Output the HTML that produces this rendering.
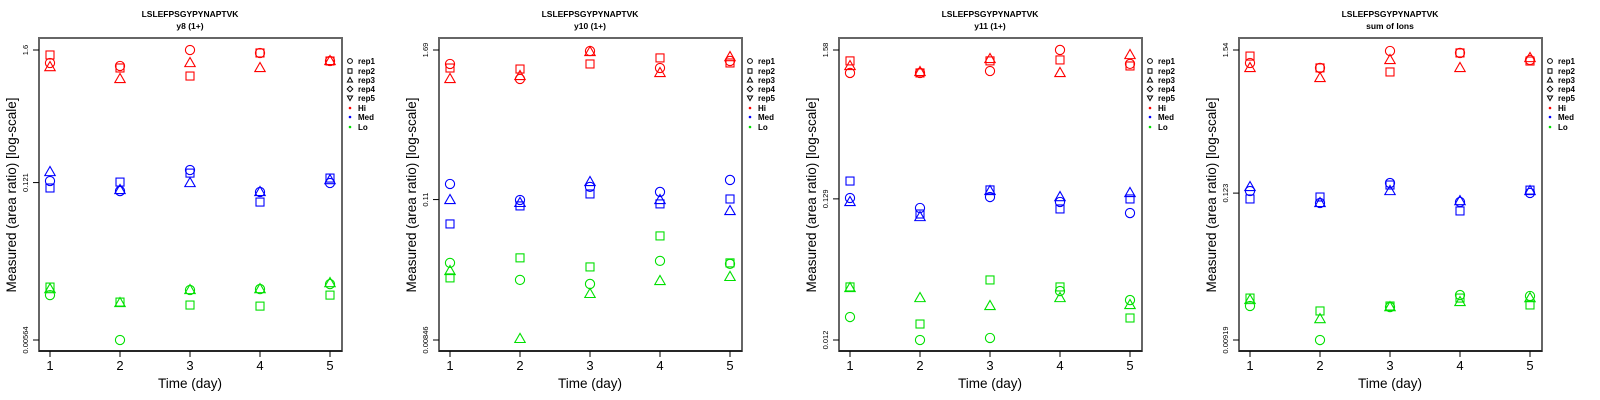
<!DOCTYPE html>
<html><head><meta charset="utf-8"><style>
body{margin:0;background:#fff;}
svg{display:block;font-family:"Liberation Sans",sans-serif;}
</style></head><body>
<svg id="chart" width="1600" height="400" viewBox="0 0 1600 400"></svg>
<script>
const days=[1,2,3,4,5];
const xTickLabels=["1","2","3","4","5"];
const panelTitles=["y8 (1+)","y10 (1+)","y11 (1+)","sum of Ions"];
const peptide="LSLEFPSGYPYNAPTVK";
const yMin=[0.00564,0.00846,0.012,0.00919];
const yMax=[1.6,1.69,1.58,1.54];
const yMidTick=[0.121,0.11,0.129,0.123];
const yTickLabels=[["1.6","0.121","0.00564"],["1.69","0.11","0.00846"],["1.58","0.129","0.012"],["1.54","0.123","0.00919"]];
const reps=["rep1","rep2","rep3"];
const groups=["Hi","Med","Lo"];
// log10 of measured area ratio, [panel][group][rep][day]
const log10Values=[
 [
  [[0.094,0.069,0.204,0.179,0.111],[0.162,0.052,-0.016,0.179,0.111],[0.060,-0.041,0.094,0.052,0.111]],
  [[-0.904,-0.989,-0.811,-0.997,-0.921],[-0.963,-0.913,-0.837,-1.082,-0.879],[-0.828,-0.980,-0.921,-0.997,-0.896]],
  [[-1.869,-2.249,-1.826,-1.818,-1.776],[-1.801,-1.928,-1.953,-1.962,-1.869],[-1.818,-1.936,-1.826,-1.818,-1.767]]
 ],
 [
  [[0.117,-0.002,0.220,0.085,0.141],[0.085,0.077,0.117,0.165,0.125],[-0.002,0.022,0.212,0.046,0.172]],
  [[-0.835,-0.962,-0.858,-0.898,-0.803],[-1.152,-1.009,-0.914,-0.993,-0.954],[-0.962,-0.985,-0.819,-0.962,-1.049]],
  [[-1.461,-1.596,-1.628,-1.445,-1.469],[-1.580,-1.421,-1.493,-1.247,-1.461],[-1.525,-2.064,-1.707,-1.604,-1.572]]
 ],
 [
  [[0.031,0.031,0.045,0.199,0.097],[0.119,0.031,0.119,0.126,0.082],[0.082,0.038,0.133,0.031,0.162]],
  [[-0.883,-0.956,-0.876,-0.912,-0.993],[-0.759,-1.000,-0.824,-0.963,-0.890],[-0.912,-1.022,-0.832,-0.876,-0.846]],
  [[-1.753,-1.921,-1.906,-1.563,-1.629],[-1.533,-1.804,-1.482,-1.533,-1.760],[-1.541,-1.614,-1.672,-1.614,-1.665]]
 ],
 [
  [[0.088,0.050,0.180,0.165,0.111],[0.141,0.050,0.019,0.165,0.103],[0.050,-0.027,0.111,0.050,0.126]],
  [[-0.894,-0.986,-0.833,-0.978,-0.909],[-0.955,-0.940,-0.848,-1.047,-0.887],[-0.863,-0.986,-0.894,-0.971,-0.894]],
  [[-1.776,-2.037,-1.784,-1.692,-1.699],[-1.715,-1.814,-1.776,-1.715,-1.768],[-1.730,-1.876,-1.784,-1.745,-1.715]]
 ]
];
const colors=["#ff0000","#0000ff","#00e000"];
const NS="http://www.w3.org/2000/svg";
const svg=document.getElementById('chart');
function mk(tag,attrs,parent){const e=document.createElementNS(NS,tag);for(const k in attrs)e.setAttribute(k,attrs[k]);(parent||svg).appendChild(e);return e;}
function txt(s,attrs,parent){const e=mk('text',attrs,parent);e.textContent=s;return e;}

for(let p=0;p<4;p++){
  const ox=p*400;
  const g=mk('g',{});
  
  
  const xS=d=>ox+50+(d-1)*70;
  const lo=Math.log10(yMin[p]),hi=Math.log10(yMax[p]);
  const yS=l=>340-(l-lo)/(hi-lo)*290;
  const t1=txt(peptide,{x:ox+190,y:17,'text-anchor':'middle','font-size':8.5,'font-weight':'bold'},g);
  
  
  const t2=txt(panelTitles[p],{x:ox+190,y:29,'text-anchor':'middle','font-size':8.5,'font-weight':'bold'},g);
  
  
  const box=mk('rect',{x:ox+39,y:38,width:303,height:313,fill:'none',stroke:'#666','stroke-width':2},g);
  
  
  const xa=mk('line',{x1:ox+39,y1:351,x2:ox+342,y2:351,stroke:'#000','stroke-width':1.2},g);
  
  
  days.forEach((d,i)=>{
    mk('line',{x1:xS(d),y1:351,x2:xS(d),y2:357,stroke:'#000'},g);
    const tl=txt(xTickLabels[i],{x:xS(d),y:370,'text-anchor':'middle','font-size':13},g);
    
    
  });
  const tickVals=[yMax[p],yMidTick[p],yMin[p]];
  tickVals.forEach((v,i)=>{
    const y=yS(Math.log10(v));
    mk('line',{x1:ox+33,y1:y,x2:ox+39,y2:y,stroke:'#000'},g);
    const tl=txt(yTickLabels[p][i],{x:ox+28,y:y,'text-anchor':'middle','font-size':7.5,transform:`rotate(-90 ${ox+28} ${y})`},g);
    
    
  });
  const xt=txt('Time (day)',{x:ox+190,y:388,'text-anchor':'middle','font-size':13.5},g);
  
  
  const yt=txt('Measured (area ratio) [log-scale]',{x:ox+16,y:195,'text-anchor':'middle','font-size':13.5,transform:`rotate(-90 ${ox+16} 195)`},g);
  
  
  for(let gi=0;gi<3;gi++){
    for(let r=0;r<3;r++){
      days.forEach((d,di)=>{
        const cx=xS(d),cy=yS(log10Values[p][gi][r][di]);
        let m;
        const st={fill:'none',stroke:colors[gi],'stroke-width':1.1};
        if(r===0){m=mk('circle',Object.assign({cx:cx,cy:cy,r:4.6},st),g);}
        else if(r===1){m=mk('rect',Object.assign({x:cx-4,y:cy-4,width:8,height:8},st),g);}
        else {m=mk('polygon',Object.assign({points:`${cx},${cy-5.5} ${cx-5.2},${cy+3.6} ${cx+5.2},${cy+3.6}`},st),g);}
        
        
      });
    }
  }
  // legend
  const lg=mk('g',{},g);
  
  
  const items=["rep1","rep2","rep3","rep4","rep5","Hi","Med","Lo"];
  const ly=[61,71,80,89,98,108,117,127];
  items.forEach((it,i)=>{
    const lx=ox+350,yy=ly[i];
    const s={fill:'none',stroke:'#000','stroke-width':1};
    if(i===0)mk('circle',Object.assign({cx:lx,cy:yy,r:2.4},s),lg);
    else if(i===1)mk('rect',Object.assign({x:lx-2,y:yy-2.2,width:4,height:4.4},s),lg);
    else if(i===2)mk('polygon',Object.assign({points:`${lx},${yy-2.6} ${lx-2.6},${yy+2} ${lx+2.6},${yy+2}`},s),lg);
    else if(i===3)mk('polygon',Object.assign({points:`${lx},${yy-2.8} ${lx+2.8},${yy} ${lx},${yy+2.8} ${lx-2.8},${yy}`},s),lg);
    else if(i===4)mk('polygon',Object.assign({points:`${lx},${yy+2.6} ${lx-2.6},${yy-2} ${lx+2.6},${yy-2}`},s),lg);
    else mk('circle',{cx:lx,cy:yy,r:1.3,fill:colors[i-5]},lg);
    const e=txt(it,{x:lx+8,y:yy+3,'font-size':8,'font-weight':'bold'},lg);
    
    
  });
}
</script>
</body></html>
